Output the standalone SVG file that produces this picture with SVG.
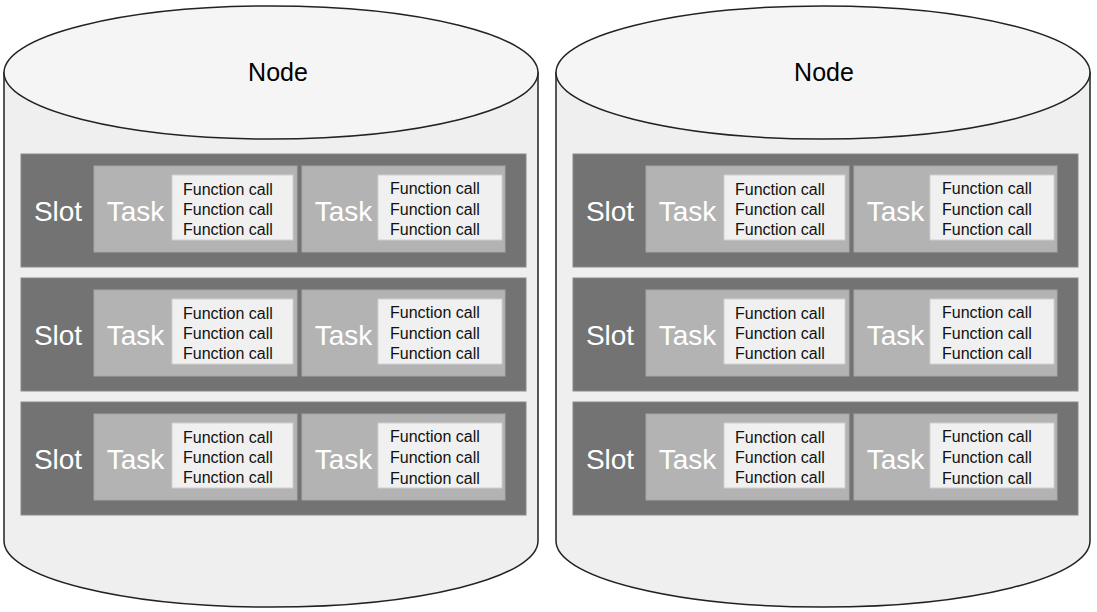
<svg xmlns="http://www.w3.org/2000/svg" width="1097" height="612" viewBox="0 0 1097 612">
<style>
.body{fill:#efefef;stroke:#222;stroke-width:1.5}
.top{fill:#f5f5f5;stroke:#222;stroke-width:1.5}
.slot{fill:#737373;stroke:#8a8a8a;stroke-width:1}
.task{fill:#b3b3b3;stroke:#a6a6a6;stroke-width:1}
.fc{fill:#f0f0f0;stroke:#d0d0d0;stroke-width:1}
.node-t{font-family:"Liberation Sans",Arial,sans-serif;font-size:25px;fill:#000;text-anchor:middle}
.big{font-family:"Liberation Sans",Arial,sans-serif;font-size:28px;fill:#fff;text-anchor:middle}
.small{font-family:"Liberation Sans",Arial,sans-serif;font-size:16px;fill:#111}
</style>
<rect width="1097" height="612" fill="#fff"/>
<g id="node-left">
<path class="body" d="M4,72.5 L4,541 A267,66 0 0 0 538,541 L538,72.5 Z"/>
<ellipse class="top" cx="271" cy="72.5" rx="267" ry="66.5"/>
<text class="node-t" x="278" y="81">Node</text>
</g>
<g id="node-right">
<path class="body" d="M556,72.5 L556,541 A267,66 0 0 0 1090,541 L1090,72.5 Z"/>
<ellipse class="top" cx="823" cy="72.5" rx="267" ry="66.5"/>
<text class="node-t" x="824" y="81">Node</text>
</g>
<g id="slot-l1">
<rect class="slot" x="21" y="154" width="505" height="113"/>
<text class="big" x="58" y="221">Slot</text>
</g>
<g id="task-l1a">
<rect class="task" x="94" y="166" width="203" height="86"/>
<text class="big" x="135.5" y="221">Task</text>
<rect class="fc" x="172" y="175" width="121" height="65"/>
<text class="small" x="183" y="195">Function call</text>
<text class="small" x="183" y="215">Function call</text>
<text class="small" x="183" y="235">Function call</text>
</g>
<g id="task-l1b">
<rect class="task" x="302" y="166" width="203" height="86"/>
<text class="big" x="343.5" y="221">Task</text>
<rect class="fc" x="378" y="175" width="124" height="65"/>
<text class="small" x="390" y="194">Function call</text>
<text class="small" x="390" y="215">Function call</text>
<text class="small" x="390" y="235">Function call</text>
</g>
<g id="slot-l2">
<rect class="slot" x="21" y="278" width="505" height="113"/>
<text class="big" x="58" y="345">Slot</text>
</g>
<g id="task-l2a">
<rect class="task" x="94" y="290" width="203" height="86"/>
<text class="big" x="135.5" y="345">Task</text>
<rect class="fc" x="172" y="299" width="121" height="65"/>
<text class="small" x="183" y="319">Function call</text>
<text class="small" x="183" y="339">Function call</text>
<text class="small" x="183" y="359">Function call</text>
</g>
<g id="task-l2b">
<rect class="task" x="302" y="290" width="203" height="86"/>
<text class="big" x="343.5" y="345">Task</text>
<rect class="fc" x="378" y="299" width="124" height="65"/>
<text class="small" x="390" y="318">Function call</text>
<text class="small" x="390" y="339">Function call</text>
<text class="small" x="390" y="359">Function call</text>
</g>
<g id="slot-l3">
<rect class="slot" x="21" y="402" width="505" height="113"/>
<text class="big" x="58" y="469">Slot</text>
</g>
<g id="task-l3a">
<rect class="task" x="94" y="414" width="203" height="86"/>
<text class="big" x="135.5" y="469">Task</text>
<rect class="fc" x="172" y="423" width="121" height="65"/>
<text class="small" x="183" y="443">Function call</text>
<text class="small" x="183" y="463">Function call</text>
<text class="small" x="183" y="483">Function call</text>
</g>
<g id="task-l3b">
<rect class="task" x="302" y="414" width="203" height="86"/>
<text class="big" x="343.5" y="469">Task</text>
<rect class="fc" x="378" y="423" width="124" height="65"/>
<text class="small" x="390" y="442">Function call</text>
<text class="small" x="390" y="463">Function call</text>
<text class="small" x="390" y="484">Function call</text>
</g>
<g id="slot-r1">
<rect class="slot" x="573" y="154" width="505" height="113"/>
<text class="big" x="610" y="221">Slot</text>
</g>
<g id="task-r1a">
<rect class="task" x="646" y="166" width="203" height="86"/>
<text class="big" x="687.5" y="221">Task</text>
<rect class="fc" x="724" y="175" width="121" height="65"/>
<text class="small" x="735" y="195">Function call</text>
<text class="small" x="735" y="215">Function call</text>
<text class="small" x="735" y="235">Function call</text>
</g>
<g id="task-r1b">
<rect class="task" x="854" y="166" width="203" height="86"/>
<text class="big" x="895.5" y="221">Task</text>
<rect class="fc" x="930" y="175" width="124" height="65"/>
<text class="small" x="942" y="194">Function call</text>
<text class="small" x="942" y="215">Function call</text>
<text class="small" x="942" y="235">Function call</text>
</g>
<g id="slot-r2">
<rect class="slot" x="573" y="278" width="505" height="113"/>
<text class="big" x="610" y="345">Slot</text>
</g>
<g id="task-r2a">
<rect class="task" x="646" y="290" width="203" height="86"/>
<text class="big" x="687.5" y="345">Task</text>
<rect class="fc" x="724" y="299" width="121" height="65"/>
<text class="small" x="735" y="319">Function call</text>
<text class="small" x="735" y="339">Function call</text>
<text class="small" x="735" y="359">Function call</text>
</g>
<g id="task-r2b">
<rect class="task" x="854" y="290" width="203" height="86"/>
<text class="big" x="895.5" y="345">Task</text>
<rect class="fc" x="930" y="299" width="124" height="65"/>
<text class="small" x="942" y="318">Function call</text>
<text class="small" x="942" y="339">Function call</text>
<text class="small" x="942" y="359">Function call</text>
</g>
<g id="slot-r3">
<rect class="slot" x="573" y="402" width="505" height="113"/>
<text class="big" x="610" y="469">Slot</text>
</g>
<g id="task-r3a">
<rect class="task" x="646" y="414" width="203" height="86"/>
<text class="big" x="687.5" y="469">Task</text>
<rect class="fc" x="724" y="423" width="121" height="65"/>
<text class="small" x="735" y="443">Function call</text>
<text class="small" x="735" y="463">Function call</text>
<text class="small" x="735" y="483">Function call</text>
</g>
<g id="task-r3b">
<rect class="task" x="854" y="414" width="203" height="86"/>
<text class="big" x="895.5" y="469">Task</text>
<rect class="fc" x="930" y="423" width="124" height="65"/>
<text class="small" x="942" y="442">Function call</text>
<text class="small" x="942" y="463">Function call</text>
<text class="small" x="942" y="484">Function call</text>
</g>
<g id="connectors"></g>
</svg>
